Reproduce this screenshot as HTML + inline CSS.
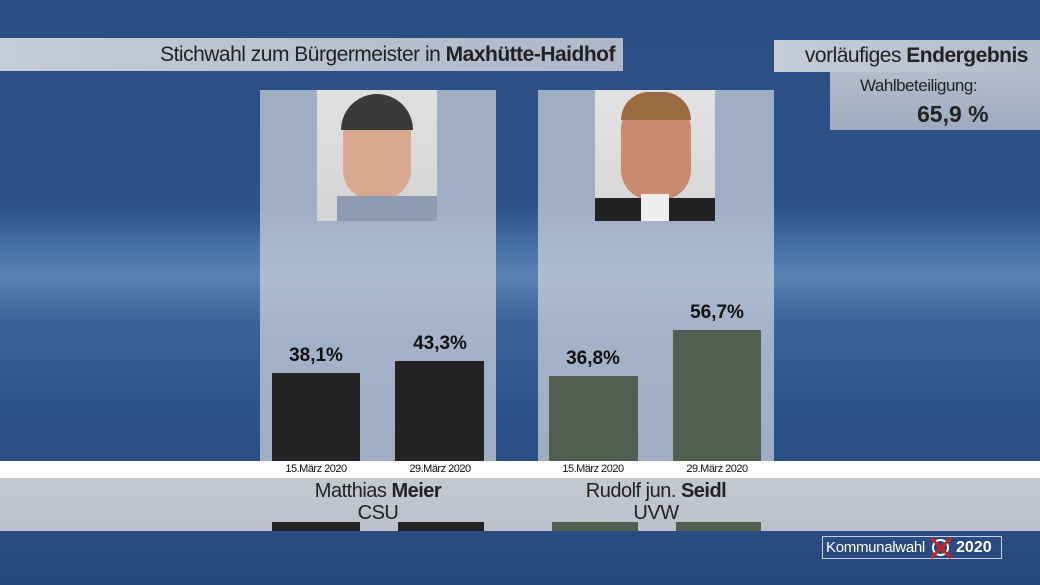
<!DOCTYPE html>
<html><head><meta charset="utf-8"><style>
*{margin:0;padding:0;box-sizing:border-box}
body{width:1040px;height:585px;overflow:hidden;position:relative;font-family:"Liberation Sans",sans-serif;
background:linear-gradient(180deg,#2b4e84 0%,#2d5188 35%,#4670a4 42%,#5a82b4 47%,#3d6398 55%,#2e5389 70%,#2a4b80 90%,#23406f 100%)}
.a{position:absolute}
.panel{background:rgba(205,210,220,0.72)}
.bar1{background:#232323}.bar2{background:#535e52}
.val{position:absolute;width:120px;text-align:center;font-weight:bold;font-size:19px;color:#111}
.dt{position:absolute;width:120px;text-align:center;font-size:11px;color:#111;letter-spacing:-0.5px}
</style></head><body>
<div class="a" style="left:0;top:500px;width:1040px;height:85px;background:linear-gradient(180deg,#2d5088,#264679)"></div>
<div class="a" style="left:0;top:38px;width:623px;height:33px;background:linear-gradient(90deg,#c5ccd8,#aeb8c9);font-size:21px;color:#222;text-align:right;padding-right:8px;line-height:33px;letter-spacing:-0.5px">Stichwahl zum Bürgermeister in <b>Maxhütte-Haidhof</b></div>
<div class="a" style="left:774px;top:40px;width:266px;height:32px;background:linear-gradient(90deg,#c5ccd8,#b3bccb);font-size:21px;color:#222;text-align:right;padding-right:12px;line-height:32px;letter-spacing:-0.5px">vorläufiges <b>Endergebnis</b></div>
<div class="a" style="left:830px;top:72px;width:210px;height:58px;background:linear-gradient(180deg,#b4bdcc,#9eaabe);color:#222">
<div class="a" style="left:30px;top:4px;font-size:17px;letter-spacing:-0.5px">Wahlbeteiligung:</div>
<div class="a" style="left:87px;top:29px;font-size:23px;font-weight:bold">65,9 %</div></div>
<div class="a panel" style="left:260px;top:90px;width:236px;height:372px"></div>
<div class="a panel" style="left:538px;top:90px;width:236px;height:372px"></div>
<div class="a" style="left:317px;top:90px;width:120px;height:131px;background:linear-gradient(180deg,#e0e0e0,#d4d4d4)">
<div class="a" style="left:26px;top:10px;width:68px;height:100px;border-radius:34px 34px 30px 30px;background:#d9a890"></div>
<div class="a" style="left:24px;top:4px;width:72px;height:36px;border-radius:36px 36px 0 0;background:#3a3a3a"></div>
<div class="a" style="left:20px;top:106px;width:100px;height:25px;background:#8e9bb0"></div></div>
<div class="a" style="left:595px;top:90px;width:120px;height:131px;background:linear-gradient(180deg,#e2e2e2,#d6d6d6)">
<div class="a" style="left:26px;top:6px;width:70px;height:104px;border-radius:34px 34px 30px 30px;background:#c98a72"></div>
<div class="a" style="left:26px;top:2px;width:70px;height:28px;border-radius:35px 35px 0 0;background:#9a6a40"></div>
<div class="a" style="left:0;top:108px;width:120px;height:23px;background:#222"></div>
<div class="a" style="left:46px;top:104px;width:28px;height:27px;background:#eee"></div></div>
<div class="a bar1" style="left:272px;top:373px;width:88px;height:89px"></div>
<div class="a bar1" style="left:395px;top:361px;width:89px;height:101px"></div>
<div class="a bar2" style="left:549px;top:376px;width:89px;height:86px"></div>
<div class="a bar2" style="left:673px;top:330px;width:88px;height:132px"></div>
<div class="val" style="left:256px;top:345px">38,1%</div>
<div class="val" style="left:380px;top:333px">43,3%</div>
<div class="val" style="left:533px;top:348px">36,8%</div>
<div class="val" style="left:657px;top:302px">56,7%</div>
<div class="a" style="left:0;top:461px;width:1040px;height:17px;background:#fff"></div>
<div class="dt" style="left:256px;top:463px">15.März 2020</div>
<div class="dt" style="left:380px;top:463px">29.März 2020</div>
<div class="dt" style="left:533px;top:463px">15.März 2020</div>
<div class="dt" style="left:657px;top:463px">29.März 2020</div>
<div class="a" style="left:0;top:478px;width:1040px;height:53px;background:linear-gradient(180deg,#c6c8d0,#bdc0c8)"></div>
<div class="a" style="left:260px;top:480px;width:236px;text-align:center;font-size:20px;color:#222;line-height:22px;letter-spacing:-0.5px">Matthias <b>Meier</b><br>CSU</div>
<div class="a" style="left:538px;top:480px;width:236px;text-align:center;font-size:20px;color:#222;line-height:22px;letter-spacing:-0.5px">Rudolf jun. <b>Seidl</b><br>UVW</div>
<div class="a bar1" style="left:272px;top:522px;width:88px;height:9px"></div>
<div class="a bar1" style="left:398px;top:522px;width:86px;height:9px"></div>
<div class="a bar2" style="left:552px;top:522px;width:86px;height:9px"></div>
<div class="a bar2" style="left:676px;top:522px;width:85px;height:9px"></div>
<div class="a" style="left:822px;top:536px;width:180px;height:23px;border:1px solid #c8d0e0"></div>
<div class="a" style="left:826px;top:537px;color:#fff;font-size:15px;line-height:21px;letter-spacing:-0.3px">Kommunalwahl</div>
<div class="a" style="left:932px;top:539px;width:17px;height:17px;border:2px solid #fff;border-radius:50%"></div>
<svg class="a" style="left:928px;top:535px" width="26" height="26"><path d="M3 3L23 23M23 3L3 23" stroke="#d02020" stroke-width="3"/></svg>
<div class="a" style="left:956px;top:537px;color:#fff;font-size:16px;font-weight:bold;line-height:21px">2020</div>
</body></html>
